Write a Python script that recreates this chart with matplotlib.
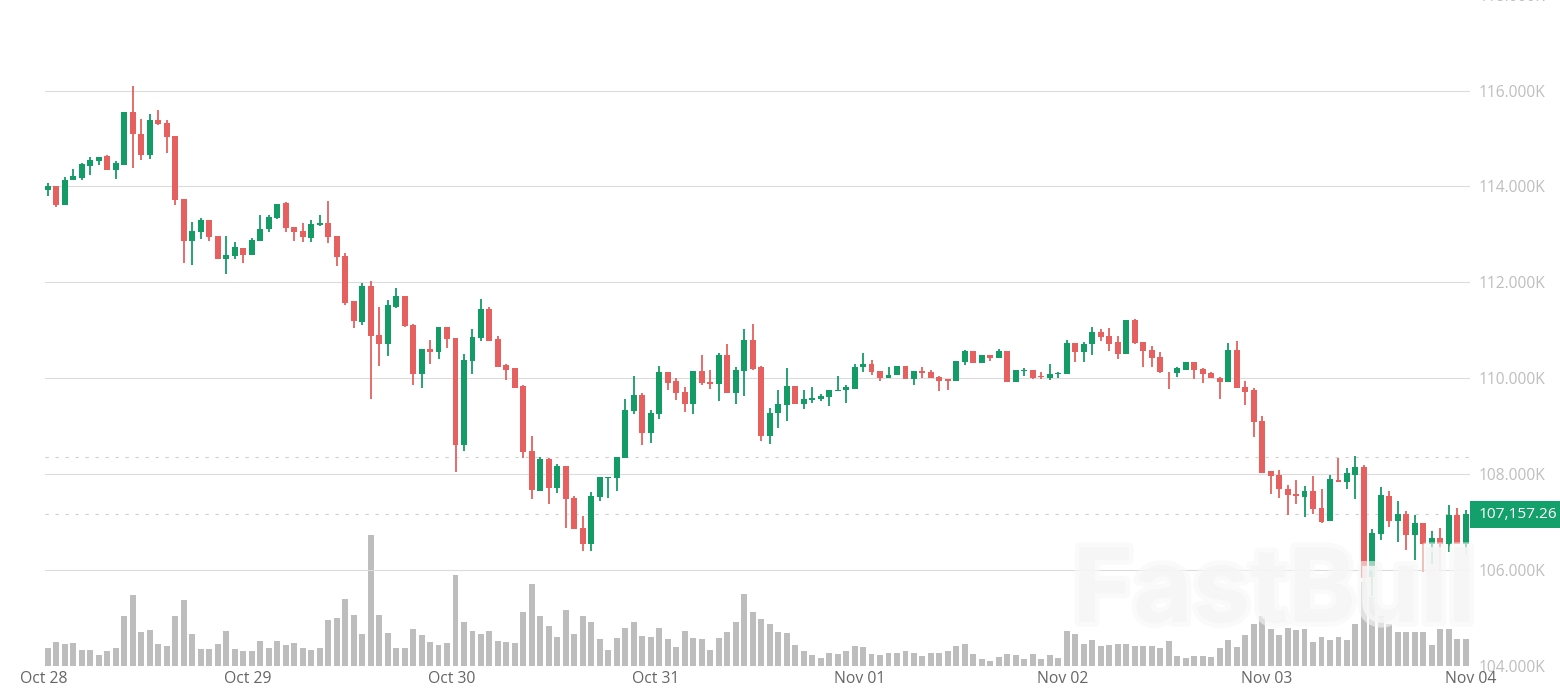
import matplotlib
matplotlib.use('Agg')
import matplotlib.pyplot as plt
import matplotlib.patheffects as pe
from matplotlib.patches import Rectangle
import numpy as np

# hourly candles, prices in thousands
opens = [113.93,114.00,113.61,114.13,114.18,114.43,114.52,114.63,114.35,114.45,
115.55,115.10,114.66,115.38,115.33,115.05,113.74,112.85,113.04,113.29,
112.97,112.49,112.55,112.72,112.57,112.86,113.10,113.33,113.65,113.15,
113.07,112.93,113.19,113.24,112.97,112.55,111.60,111.17,111.92,110.90,
110.70,111.49,111.71,111.11,110.09,110.60,110.55,111.07,110.83,108.60,
110.36,110.84,111.44,110.81,110.27,110.20,109.83,108.47,107.65,108.30,
107.71,108.16,107.50,106.86,106.54,107.51,107.92,107.92,108.33,109.32,
109.65,108.86,109.24,110.13,109.94,109.71,109.45,110.15,109.92,109.87,
110.47,109.69,110.15,110.79,110.23,108.78,109.26,109.43,109.84,109.46,
109.54,109.56,109.61,109.73,109.74,109.78,110.22,110.30,110.15,109.99,
110.06,110.25,109.97,110.15,110.13,110.03,109.97,109.93,110.33,110.56,
110.32,110.47,110.41,110.56,109.92,110.15,110.17,110.04,110.01,110.08,
110.08,110.73,110.54,110.70,110.97,110.88,110.75,110.51,111.21,110.75,
110.58,110.43,110.13,110.10,110.17,110.34,110.19,110.10,110.01,109.91,
110.59,109.82,109.76,109.10,108.05,107.98,107.69,107.58,107.52,107.65,
107.28,107.01,107.88,107.84,107.98,108.15,105.84,106.75,107.54,107.01,
107.17,106.72,106.97,106.54,106.66,106.54,107.14,106.54]

highs = [114.07,114.00,114.20,114.36,114.49,114.61,114.62,114.66,114.52,115.55,
116.09,115.40,115.51,115.60,115.38,115.05,113.74,113.26,113.35,113.29,
112.97,112.97,112.83,112.72,112.92,113.41,113.40,113.64,113.68,113.15,
113.24,113.30,113.40,113.69,112.97,112.61,111.60,111.99,112.03,111.49,
111.62,111.87,111.71,111.13,110.60,110.79,111.07,111.07,110.83,110.50,
111.02,111.65,111.49,110.87,110.29,110.20,109.85,108.79,108.35,108.33,
108.21,108.16,107.54,107.13,107.62,107.94,107.94,108.35,109.57,110.05,
109.69,109.33,110.26,110.13,110.00,109.82,110.15,110.49,110.17,110.52,
110.70,110.24,111.02,111.13,110.26,109.37,109.76,110.21,109.84,109.75,
109.81,109.67,109.76,110.05,109.85,110.29,110.53,110.37,110.15,110.24,
110.25,110.25,110.15,110.22,110.17,110.05,109.98,110.36,110.59,110.56,
110.47,110.48,110.60,110.56,110.16,110.20,110.17,110.13,110.29,110.13,
110.79,110.73,110.75,111.06,111.02,111.05,110.88,111.21,111.23,110.75,
110.66,110.54,110.13,110.24,110.34,110.34,110.20,110.13,110.03,110.73,
110.77,109.93,109.79,109.20,108.05,108.08,107.76,107.87,107.75,107.96,
107.68,107.98,108.34,108.12,108.38,108.18,106.84,107.73,107.64,107.44,
107.22,107.14,106.97,106.80,106.86,107.34,107.29,107.25]

lows = [113.80,113.56,113.61,114.13,114.14,114.23,114.45,114.34,114.16,114.45,
114.39,114.55,114.57,115.29,114.70,113.61,112.40,112.36,112.90,112.85,
112.49,112.17,112.48,112.41,112.57,112.86,113.04,113.32,113.04,112.85,
112.83,112.83,113.17,112.82,112.34,111.52,111.05,111.10,109.57,110.25,
110.45,111.47,111.07,109.85,109.80,110.29,110.40,110.63,108.04,108.47,
110.09,110.77,110.78,110.24,109.96,109.80,108.33,107.48,107.65,107.38,
107.59,106.86,106.84,106.38,106.38,107.43,107.50,107.64,108.33,109.25,
108.60,108.65,109.15,109.75,109.55,109.30,109.25,109.85,109.78,109.53,
109.69,109.46,109.62,110.16,108.68,108.62,108.96,109.11,109.46,109.35,
109.48,109.53,109.42,109.73,109.48,109.78,110.13,110.06,109.94,109.99,
110.06,109.97,109.85,110.01,109.99,109.72,109.75,109.93,110.28,110.32,
110.32,110.36,110.41,109.92,109.92,110.04,109.98,109.98,109.95,110.01,
110.08,110.34,110.34,110.49,110.77,110.57,110.40,110.51,110.72,110.22,
110.22,110.10,109.77,110.03,110.17,109.97,109.90,109.99,109.56,109.91,
109.80,109.44,108.76,108.02,107.57,107.50,107.14,107.37,107.09,107.17,
106.97,107.01,107.82,107.68,107.48,105.60,105.46,106.61,106.90,106.57,
106.42,106.20,105.95,106.11,105.95,106.37,106.54,106.31]

closes = [114.01,113.61,114.14,114.21,114.46,114.55,114.62,114.35,114.48,115.55,
115.09,114.66,115.38,115.30,115.03,113.71,112.85,113.06,113.29,112.94,
112.49,112.57,112.73,112.56,112.88,113.12,113.36,113.64,113.13,113.04,
112.94,113.22,113.24,112.94,112.53,111.57,111.18,111.92,110.88,110.70,
111.53,111.71,111.09,110.09,110.60,110.55,111.07,110.82,108.61,110.37,
110.86,111.44,110.78,110.24,110.17,109.80,108.45,107.66,108.30,107.71,
108.16,107.48,106.84,106.54,107.53,107.94,107.94,108.35,109.34,109.65,
108.86,109.27,110.13,109.90,109.69,109.45,110.15,109.89,109.87,110.48,
109.69,110.17,110.79,110.19,108.78,109.28,109.46,109.84,109.46,109.57,
109.59,109.63,109.76,109.75,109.81,110.24,110.30,110.13,109.99,110.07,
110.25,109.98,110.15,110.10,109.99,109.94,109.94,110.36,110.57,110.32,
110.47,110.41,110.56,109.92,110.16,110.17,110.01,110.02,110.09,110.10,
110.73,110.54,110.72,110.95,110.86,110.72,110.51,111.21,110.74,110.56,
110.42,110.12,110.12,110.20,110.34,110.17,110.08,109.99,109.91,110.59,
109.80,109.71,109.08,108.02,107.95,107.68,107.56,107.54,107.65,107.26,
107.00,107.89,107.84,108.01,108.14,105.82,106.77,107.55,107.01,107.16,
106.72,106.97,106.54,106.66,106.54,107.14,106.54,107.157]

volumes = [53,70,66,67,47,48,32,45,52,149,211,101,106,65,60,148,197,96,49,51,
65,103,49,45,43,73,52,74,63,69,52,48,52,136,144,200,151,95,393,151,
97,52,54,109,92,70,62,67,272,130,103,94,103,73,70,67,162,245,149,120,
86,168,94,150,132,79,46,82,114,130,90,86,114,79,55,103,82,79,46,82,
100,130,216,162,139,125,100,98,63,43,31,24,39,34,43,58,55,34,33,39,
39,45,39,29,37,38,45,59,64,36,20,15,25,34,31,21,36,21,32,23,
103,94,64,77,58,62,65,64,59,59,59,53,74,30,22,30,28,27,52,78,
57,93,124,148,109,92,114,107,110,70,86,78,87,76,124,251,205,149,125,102,
100,100,100,61,111,111,79,79]

day_labels = ['Oct 28', 'Oct 29', 'Oct 30', 'Oct 31', 'Nov 01', 'Nov 02', 'Nov 03', 'Nov 04']
price_ticks = [104, 106, 108, 110, 112, 114, 116, 118]
session_high = 108.35
last_price = 107.15726
last_label = '107,157.26'

GREEN = '#149c66'
RED = '#e5605f'
FONT = 'Open Sans'

W, H = 1560, 691
fig = plt.figure(figsize=(W / 100, H / 100), dpi=100, facecolor='white')
# top of the axes (118K) lies just above the picture, like in the original
ax = fig.add_axes([45 / W, 25.5 / H, 1425 / W, 670.8 / H])
ax2 = ax.twinx()
ax.set_zorder(ax2.get_zorder() + 1)
ax.patch.set_visible(False)
ax2.patch.set_visible(False)

x = np.arange(len(opens))
o = np.array(opens)
h = np.array(highs)
l = np.array(lows)
c = np.array(closes)
colors = [GREEN if c[i] >= o[i] else RED for i in x]

# volume
ax2.bar(x, volumes, width=0.7, color='#bdbdbd', linewidth=0)
ax2.set_ylim(0, 670.8 * 3)
ax2.set_yticks([])

# candles
ax.vlines(x, l, h, colors=colors, linewidth=1.3, zorder=3)
ax.bar(x, np.abs(c - o), bottom=np.minimum(o, c), width=0.7, color=colors, linewidth=0, zorder=4)

ax.set_xlim(-0.35, 167.49)
ax.set_ylim(104, 118)
ax.set_xticks([])
ax.set_yticks(price_ticks)
ax.set_yticklabels(['%.3fK' % p for p in price_ticks], fontsize=11.2, color='#bebebe', family=FONT)
ax.yaxis.tick_right()
ax.tick_params(axis='y', length=0, pad=6)
for s in ax.spines.values():
    s.set_visible(False)
for s in ax2.spines.values():
    s.set_visible(False)

ax.grid(True, axis='y', color='#dcdcdc', linewidth=0.8)
ax.set_axisbelow(True)
ax.yaxis.get_gridlines()[0].set_visible(False)

# high and last price lines
ax.axhline(session_high, color='#cfcfcf', linewidth=0.8, dashes=(3, 6), zorder=1)
ax.axhline(last_price, color='#cfcfcf', linewidth=0.8, dashes=(3, 6), zorder=1)

# day labels under the bars
for k, lab in enumerate(day_labels):
    ax.text(24 * k - 0.45, 103.72, lab, ha='center', va='center', fontsize=11.3, color='#666666', family=FONT)

# last price box
fig.patches.append(Rectangle((1470 / W, 1 - 528 / H), 90 / W, 27 / H, transform=fig.transFigure,
                             facecolor='#14a06a', edgecolor='none', figure=fig))
fig.text(1518 / W, 1 - 514.5 / H, last_label, ha='center', va='center', fontsize=11.1, color='white', family=FONT)

# watermark
fig.text(1274 / W, 1 - 595 / H, 'FastBull', ha='center', va='center', fontsize=74, fontweight='bold',
         color='#f6f6f6', alpha=0.7, family='Inter', zorder=10,
         path_effects=[pe.withStroke(linewidth=7, foreground='#f8f8f8', alpha=0.6)])

fig.savefig('out.png', dpi=100, facecolor='white')
